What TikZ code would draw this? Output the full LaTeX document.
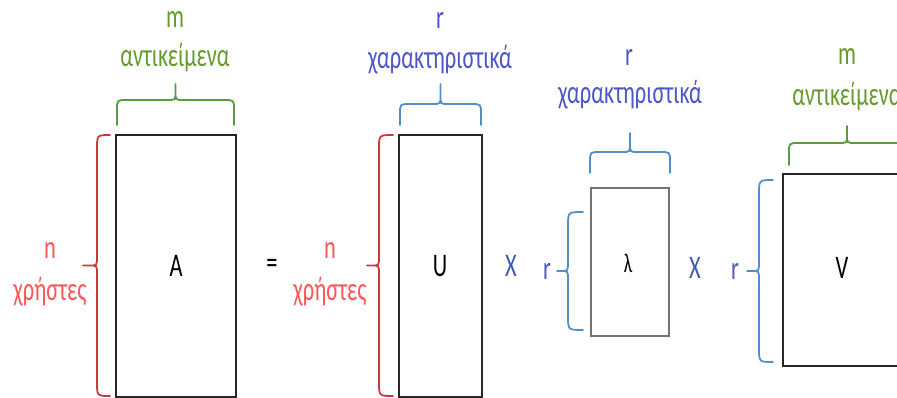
\documentclass[tikz,border=0pt]{standalone}
\usepackage{fontspec}
\setmainfont[FakeStretch=0.68]{Carlito}
\definecolor{objgreen}{RGB}{100,156,44}
\definecolor{objbrace}{RGB}{88,156,66}
\definecolor{usertext}{RGB}{250,86,86}
\definecolor{userbrace}{RGB}{196,58,58}
\definecolor{feattext}{RGB}{76,86,200}
\definecolor{featbrace}{RGB}{84,142,200}
\definecolor{timesblue}{RGB}{62,90,178}

% brace opening downwards: x1, x2, end y, line y, tip y, style
\newcommand\bracetop[6]{%
  \pgfmathsetmacro\brmid{(#1+#2)/2}%
  \draw[#6] (#1,#3) -- (#1,#4+10) .. controls (#1,#4) .. (#1+10,#4)
    -- (\brmid-8,#4) .. controls (\brmid,#4) .. (\brmid,#4-8) -- (\brmid,#5)
    (#2,#3) -- (#2,#4+10) .. controls (#2,#4) .. (#2-10,#4)
    -- (\brmid+8,#4) .. controls (\brmid,#4) .. (\brmid,#4-8);
}
% brace opening rightwards: y1, y2, end x, line x, tip x, style
\newcommand\braceleft[6]{%
  \pgfmathsetmacro\brmid{(#1+#2)/2}%
  \draw[#6] (#3,#1) .. controls (#4,#1) .. (#4,#1+14) -- (#4,\brmid-9)
    .. controls (#4,\brmid) .. (#4-7,\brmid) -- (#5,\brmid)
    (#3,#2) .. controls (#4,#2) .. (#4,#2-14) -- (#4,\brmid+9)
    .. controls (#4,\brmid) .. (#4-7,\brmid);
}

\begin{document}
\begin{tikzpicture}[x=1pt,y=-1pt,
  lbl/.style={font=\fontsize{33}{35}\selectfont, inner sep=0pt, anchor=center},
  mat/.style={draw=black!85, line width=1.6pt},
  brc/.style={line width=1.8pt, line cap=round}]
\useasboundingbox (0,0) rectangle (897,398);

% matrices
\node[mat, minimum width=120pt, minimum height=262pt, inner sep=0pt] (A) at (176,266) {};
\node[mat, minimum width=83pt, minimum height=262pt, inner sep=0pt] (U) at (440.5,266) {};
\node[draw=black!55, line width=2.6pt, minimum width=78pt, minimum height=148pt, inner sep=0pt] (L) at (630,262) {};
\node[mat, minimum width=140pt, minimum height=192pt, inner sep=0pt] (V) at (853,270) {};

% matrix names
\node[lbl] (An) at (176,266) {A};
\node[lbl] (Un) at (440,266) {U};
\node[lbl, font=\fontsize{27}{29}\selectfont] (Ln) at (628,263) {λ};
\node[lbl] (Vn) at (842,268) {V};

% operators
\node[lbl] (eq) at (272,266) {=};
\node[lbl, text=timesblue] (x1) at (511,266) {X};
\node[lbl, text=timesblue] (x2) at (695,268) {X};

% A: items and users
\bracetop{117}{234}{125}{100}{84}{brc, objbrace}
\node[lbl, text=objgreen] (Am) at (175,20) {m};
\node[lbl, text=objgreen] (Aitems) at (175,58) {αντικείμενα};
\braceleft{135}{396}{110}{97}{83}{brc, userbrace}
\node[lbl, text=usertext] (An1) at (50,250) {n};
\node[lbl, text=usertext] (Ausers) at (50,292) {χρήστες};

% U: users and features
\bracetop{400}{481}{125}{104}{84}{brc, featbrace}
\node[lbl, text=feattext] (Ur) at (440,20) {r};
\node[lbl, text=feattext] (Ufeat) at (440,60) {χαρακτηριστικά};
\braceleft{135}{396}{393}{379}{367}{brc, userbrace}
\node[lbl, text=usertext] (Un1) at (330,250) {n};
\node[lbl, text=usertext] (Uusers) at (330,292) {χρήστες};

% lambda: features by features
\bracetop{590}{670}{173}{152}{133}{brc, featbrace}
\node[lbl, text=feattext] (Lr) at (629,57) {r};
\node[lbl, text=feattext] (Lfeat) at (630,95) {χαρακτηριστικά};
\braceleft{212}{330}{583}{568}{557}{brc, featbrace}
\node[lbl, text=feattext] (Lr2) at (547,271) {r};

% V: features and items
\bracetop{789}{905}{165}{143}{126}{brc, objbrace}
\node[lbl, text=objgreen] (Vm) at (847,57) {m};
\node[lbl, text=objgreen] (Vitems) at (847,97) {αντικείμενα};
\braceleft{180}{362}{773}{759}{747}{brc, featbrace}
\node[lbl, text=feattext] (Vr) at (735,271) {r};
\end{tikzpicture}
\end{document}
